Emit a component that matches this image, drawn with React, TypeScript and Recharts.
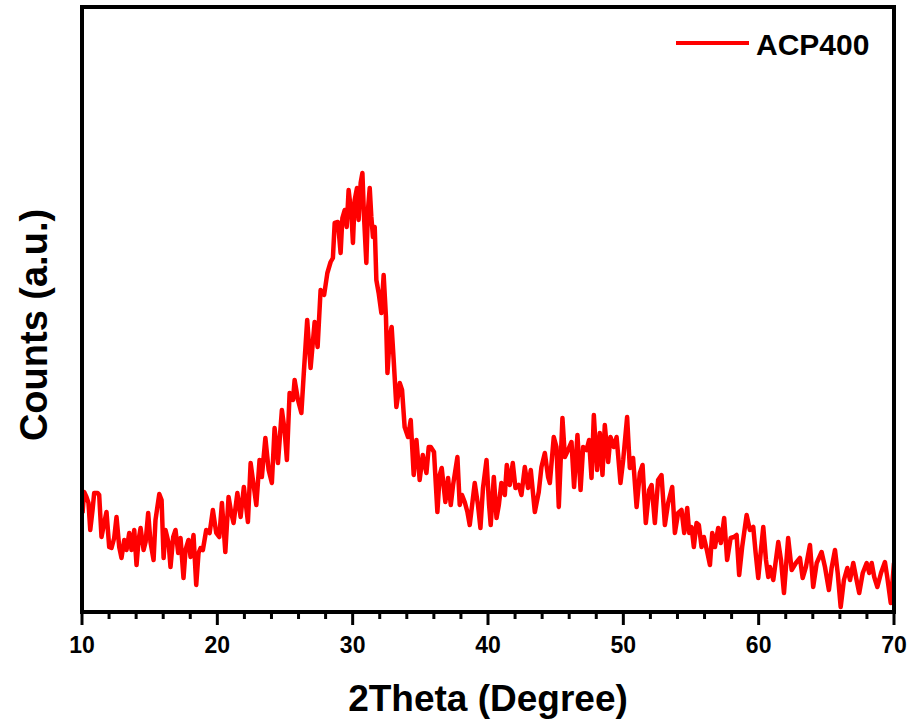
import { LineChart, Line, XAxis, YAxis } from 'recharts'

// 2theta positions (degree)
const twoTheta = [
  10.04, 10.16, 10.33, 10.48, 10.61, 10.78, 10.9, 11.15, 11.27, 11.44, 11.64, 11.81, 12.01, 12.18, 12.38, 12.55,
  12.75, 12.92, 13.12, 13.29, 13.49, 13.66, 13.86, 14.03, 14.18, 14.33, 14.55, 14.7, 14.89, 15.06, 15.29, 15.43,
  15.71, 15.88, 16.03, 16.17, 16.4, 16.54, 16.74, 16.91, 17.11, 17.28, 17.5, 17.65, 17.87, 18.02, 18.24, 18.44,
  18.61, 18.76, 18.93, 19.18, 19.43, 19.67, 19.92, 20.14, 20.34, 20.59, 20.83, 21.03, 21.2, 21.48, 21.72, 21.96,
  22.26, 22.46, 22.63, 22.88, 23.12, 23.29, 23.55, 23.79, 24.03, 24.23, 24.48, 24.77, 24.97, 25.14, 25.34, 25.59,
  25.71, 25.96, 26.21,
  26.38, 26.64, 26.89, 27.19, 27.41, 27.63, 27.89, 28.13, 28.37, 28.54, 28.67, 28.91, 29.11, 29.24, 29.41, 29.56,
  29.7, 29.9, 30.02, 30.15, 30.32, 30.44, 30.59, 30.72, 30.84, 31.01, 31.13, 31.26, 31.38, 31.5, 31.63, 31.75,
  31.92, 32.12, 32.29, 32.46, 32.57, 32.74, 32.88, 33.03, 33.23, 33.36, 33.48, 33.65, 33.84, 34.09, 34.29, 34.51,
  34.71, 34.95, 35.18, 35.45, 35.62,
  35.77, 36.01, 36.26, 36.43, 36.58, 36.85, 37.05, 37.25, 37.42, 37.74, 37.91, 38.08, 38.28, 38.48, 38.65, 39.02,
  39.26, 39.44, 39.63, 39.89, 40.08, 40.2, 40.43, 40.63, 40.8, 40.99, 41.24, 41.39, 41.61, 41.83, 42.03, 42.27,
  42.47, 42.72, 42.96, 43.16, 43.46, 43.75, 43.95,
  44.2, 44.44, 44.57, 44.86, 45.06, 45.23, 45.5, 45.68, 45.92, 46.17, 46.36, 46.61, 46.84, 47.03, 47.28, 47.47,
  47.65, 47.82, 48.06, 48.26, 48.46, 48.63, 48.88, 49.05, 49.3, 49.5, 49.79, 49.99, 50.28, 50.48, 50.72, 50.98,
  51.22, 51.42, 51.66, 51.91, 52.09, 52.33, 52.57,
  52.82, 53.07, 53.31, 53.61, 53.81, 54.05, 54.3, 54.5, 54.72, 54.87, 55.04, 55.21, 55.41, 55.58, 55.78, 55.95,
  56.17, 56.4, 56.57, 56.77, 57.01, 57.21, 57.45, 57.67, 57.93, 58.17, 58.37, 58.56, 58.78, 59.11, 59.35, 59.6,
  59.77, 59.97, 60.17, 60.34, 60.54, 60.71,
  60.83, 61.08, 61.45, 61.65, 61.87, 62.18, 62.44, 62.75, 63.05, 63.25, 63.49, 63.79, 64.03, 64.29, 64.65, 64.9,
  65.19, 65.39, 65.64, 65.84, 66.06, 66.3, 66.55, 66.75, 66.99, 67.19, 67.43, 67.69, 67.98, 68.17, 68.35, 68.54,
  68.77, 69.04, 69.33, 69.5, 69.76, 70.0,
]

// counts (a.u.) at the same positions
const counts = [
  99, 120, 115, 109, 82, 102, 119, 119, 117, 75, 89, 100, 65, 64, 74, 95,
  65, 54, 72, 62, 79, 62, 82, 47, 72, 84, 62, 70, 99, 70, 52, 92,
  118, 112, 54, 82, 69, 45, 75, 82, 59, 74, 34, 62, 72, 55, 77, 27,
  59, 64, 62, 82, 79, 102, 79, 75, 109, 60, 115, 99, 89, 119, 95, 125,
  90, 149, 132, 107, 152, 135, 174, 142, 129, 184, 149, 202, 182, 152, 219, 212,
  232, 212, 199,
  237, 292, 244, 290, 265, 322, 317, 339, 350, 354, 389, 390, 359, 394, 402, 385,
  422, 399, 369, 412, 424, 392, 429, 439, 395, 349, 402, 424, 395, 375, 385, 332,
  319, 299, 337, 295, 239, 275, 285, 252, 205, 217, 229, 222, 185, 175, 192, 137,
  172, 132, 157, 139, 165,
  165, 160, 100, 137, 144, 110, 134, 107, 127, 155, 107, 117, 110, 100, 87, 129,
  107, 84, 124, 152, 107, 87, 135, 94, 107, 129, 117, 147, 127, 149, 124, 127,
  117, 145, 124, 142, 100, 120, 145,
  159, 135, 129, 175, 165, 105, 194, 155, 162, 170, 125, 177, 122, 165, 162, 172,
  134, 197, 142, 179, 137, 187, 150, 175, 165, 175, 129, 152, 195, 144, 154, 105,
  139, 147, 89, 122, 127, 89, 132,
  137, 87, 109, 125, 79, 99, 102, 79, 104, 79, 85, 65, 89, 87, 65, 75,
  62, 47, 79, 65, 84, 69, 94, 52, 74, 75, 77, 37, 65, 97, 82, 85,
  60, 34, 62, 85, 52, 35,
  45, 32, 70, 52, 19, 74, 42, 49, 54, 34, 45, 67, 25, 49, 60, 45,
  22, 44, 62, 39, 5, 32, 44, 32, 49, 35, 19, 39, 49, 39, 49, 35,
  25, 39, 50, 35, 9, 49,
]

const xTicks = [10, 12, 14, 16, 18, 20, 22, 24, 26, 28, 30, 32, 34, 36, 38, 40, 42, 44, 46, 48, 50, 52, 54, 56, 58, 60, 62, 64, 66, 68, 70]
const majorTicks = [10, 20, 30, 40, 50, 60, 70]

const seriesName = 'ACP400'
const xTitle = '2Theta (Degree)'
const yTitle = 'Counts (a.u.)'

const data = twoTheta.map((t, i) => ({ twoTheta: t, counts: counts[i] }))

const FONT = "'Liberation Sans', Arial, Helvetica, sans-serif"

function XTick(props: any) {
  const { x, y, payload } = props
  const major = majorTicks.includes(payload.value)
  return (
    <g>
      <line x1={x} x2={x} y1={y} y2={y + (major ? 13 : 7)} stroke="#000" strokeWidth={3} />
      {major && (
        <text x={x} y={y + 41} textAnchor="middle" fontFamily={FONT} fontWeight="bold" fontSize={23} fill="#000">
          {payload.value}
        </text>
      )}
    </g>
  )
}

const frameLine = { stroke: '#000', strokeWidth: 4, strokeLinecap: 'square' as const }

export default function App() {
  return (
    <div style={{ position: 'absolute', left: 0, top: 0, width: 916, height: 724, background: '#fff' }}>
      <LineChart
        width={916}
        height={724}
        data={data}
        margin={{ top: 6, right: 21, bottom: 111, left: 81 }}
      >
        <XAxis
          type="number"
          dataKey="twoTheta"
          domain={[10, 70]}
          ticks={xTicks}
          interval={0}
          height={1}
          tickSize={0}
          tickMargin={0}
          tickLine={false}
          tick={<XTick />}
          axisLine={frameLine}
          allowDataOverflow
        />
        <XAxis
          xAxisId="top"
          orientation="top"
          type="number"
          domain={[10, 70]}
          height={1}
          tick={false}
          tickLine={false}
          axisLine={frameLine}
        />
        <YAxis type="number" domain={[0, 605]} width={1} tick={false} tickLine={false} axisLine={frameLine} allowDataOverflow />
        <YAxis
          yAxisId="right"
          orientation="right"
          type="number"
          domain={[0, 605]}
          width={1}
          tick={false}
          tickLine={false}
          axisLine={frameLine}
        />
        <Line
          type="linear"
          dataKey="counts"
          name={seriesName}
          stroke="#ff0000"
          strokeWidth={4.5}
          strokeLinejoin="round"
          dot={false}
          activeDot={false}
          isAnimationActive={false}
        />
      </LineChart>
      <svg width={916} height={724} style={{ position: 'absolute', left: 0, top: 0, pointerEvents: 'none' }}>
        <line x1={676} x2={749} y1={43} y2={43} stroke="#ff0000" strokeWidth={4} />
        <text x={756} y={55} fontFamily={FONT} fontWeight="bold" fontSize={30} fill="#000">
          {seriesName}
        </text>
        <text x={488} y={711} textAnchor="middle" fontFamily={FONT} fontWeight="bold" fontSize={37} fill="#000">
          {xTitle}
        </text>
        <text
          x={47}
          y={325}
          textAnchor="middle"
          transform="rotate(-90 47 325)"
          fontFamily={FONT}
          fontWeight="bold"
          fontSize={38}
          fill="#000"
        >
          {yTitle}
        </text>
      </svg>
    </div>
  )
}
